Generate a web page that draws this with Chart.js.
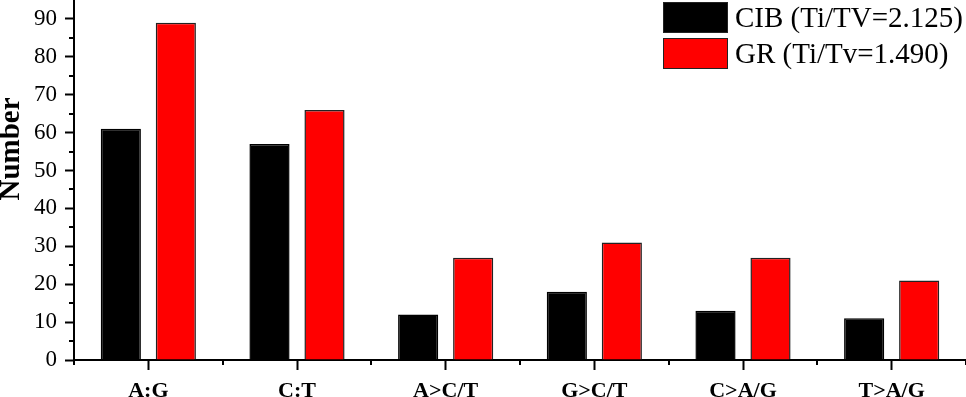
<!DOCTYPE html>
<html>
<head>
<meta charset="utf-8">
<script src="https://cdn.jsdelivr.net/npm/chart.js@4.4.1/dist/chart.umd.min.js"></script>
<style>
html,body{margin:0;padding:0;background:#fff;overflow:hidden;}
#wrap{position:relative;width:966px;height:397px;}
#legend{position:absolute;left:663px;top:2px;font-family:'Liberation Serif','Times New Roman',serif;font-size:29px;color:#000;line-height:1;}
.item{display:flex;align-items:center;height:31px;margin-bottom:5px;}
.sw{width:65px;height:31px;box-sizing:border-box;border:1.5px solid #222;margin-right:7px;flex:none;}
.lab{white-space:nowrap;}
</style>
</head>
<body>
<div id="wrap">
<canvas id="c" width="966" height="397"></canvas>
<div id="legend"></div>
</div>
<script>
const categories = ['A:G', 'C:T', 'A>C/T', 'G>C/T', 'C>A/G', 'T>A/G'];
const cibValues = [61, 57, 12, 18, 13, 11];
const grValues = [89, 66, 27, 31, 27, 21];
const seriesLabels = ['CIB (Ti/TV=2.125)', 'GR (Ti/Tv=1.490)'];
const seriesColors = ['#000000', '#ff0000'];
const yAxisTitle = 'Number';
const yMajorTicks = [0, 10, 20, 30, 40, 50, 60, 70, 80, 90];
const yMinorTicks = [5, 15, 25, 35, 45, 55, 65, 75, 85];

const serif = "'Liberation Serif','Times New Roman',serif";

// HTML legend built from the series
const legendEl = document.getElementById('legend');
seriesLabels.forEach((lab, i) => {
  const item = document.createElement('div');
  item.className = 'item';
  const sw = document.createElement('div');
  sw.className = 'sw';
  sw.style.background = seriesColors[i];
  const t = document.createElement('span');
  t.className = 'lab';
  t.textContent = lab;
  item.appendChild(sw);
  item.appendChild(t);
  legendEl.appendChild(item);
});

const extrasPlugin = {
  id: 'extras',
  afterDraw(chart) {
    const ctx = chart.ctx;
    const xs = chart.scales.x, ys = chart.scales.y;
    const area = chart.chartArea;
    ctx.save();
    ctx.strokeStyle = '#000';
    ctx.lineWidth = 2;
    // y minor ticks
    yMinorTicks.forEach(v => {
      const py = Math.round(ys.getPixelForValue(v));
      ctx.beginPath();
      ctx.moveTo(area.left - 5, py);
      ctx.lineTo(area.left, py);
      ctx.stroke();
    });
    // x minor ticks at category boundaries
    for (let i = 0; i <= categories.length; i++) {
      const px = Math.round(xs.getPixelForValue(i - 0.5));
      ctx.beginPath();
      ctx.moveTo(px, area.bottom);
      ctx.lineTo(px, area.bottom + 5);
      ctx.stroke();
    }
    // y axis title
    ctx.fillStyle = '#000';
    ctx.font = "bold 29px " + serif;
    ctx.textAlign = 'center';
    ctx.textBaseline = 'alphabetic';
    ctx.translate(19, 149);
    ctx.rotate(-Math.PI / 2);
    ctx.fillText(yAxisTitle, 0, 0);
    ctx.restore();
  }
};

new Chart(document.getElementById('c'), {
  type: 'bar',
  data: {
    labels: categories,
    datasets: [
      { label: seriesLabels[0], data: cibValues, backgroundColor: seriesColors[0], borderColor: '#000', borderWidth: 1.5 },
      { label: seriesLabels[1], data: grValues, backgroundColor: seriesColors[1], borderColor: '#222', borderWidth: 1.5 }
    ]
  },
  options: {
    responsive: false,
    animation: false,
    devicePixelRatio: 1,
    layout: { padding: 0 },
    categoryPercentage: 0.74,
    barPercentage: 0.73,
    plugins: { legend: { display: false }, tooltip: { enabled: false } },
    scales: {
      x: {
        offset: true,
        grid: { display: true, offset: false, drawOnChartArea: false, drawTicks: true, tickLength: 10, tickWidth: 2, tickColor: '#000' },
        border: { display: true, color: '#000', width: 2 },
        ticks: { color: '#000', font: { family: serif, size: 22, weight: 'bold' }, padding: 8, maxRotation: 0, autoSkip: false },
        afterFit(s) { s.height = 37; s.paddingLeft = 0; s.paddingRight = 0; }
      },
      y: {
        min: 0,
        max: 95,
        afterBuildTicks(s) { s.ticks = yMajorTicks.map(v => ({ value: v })); },
        grid: { display: true, drawOnChartArea: false, drawTicks: true, tickLength: 9, tickWidth: 2, tickColor: '#000' },
        border: { display: true, color: '#000', width: 2 },
        ticks: { color: '#000', font: { family: serif, size: 23 }, padding: 8 },
        afterFit(s) { s.width = 74; s.paddingTop = 0; s.paddingBottom = 0; }
      }
    }
  },
  plugins: [extrasPlugin]
});
</script>
</body>
</html>
